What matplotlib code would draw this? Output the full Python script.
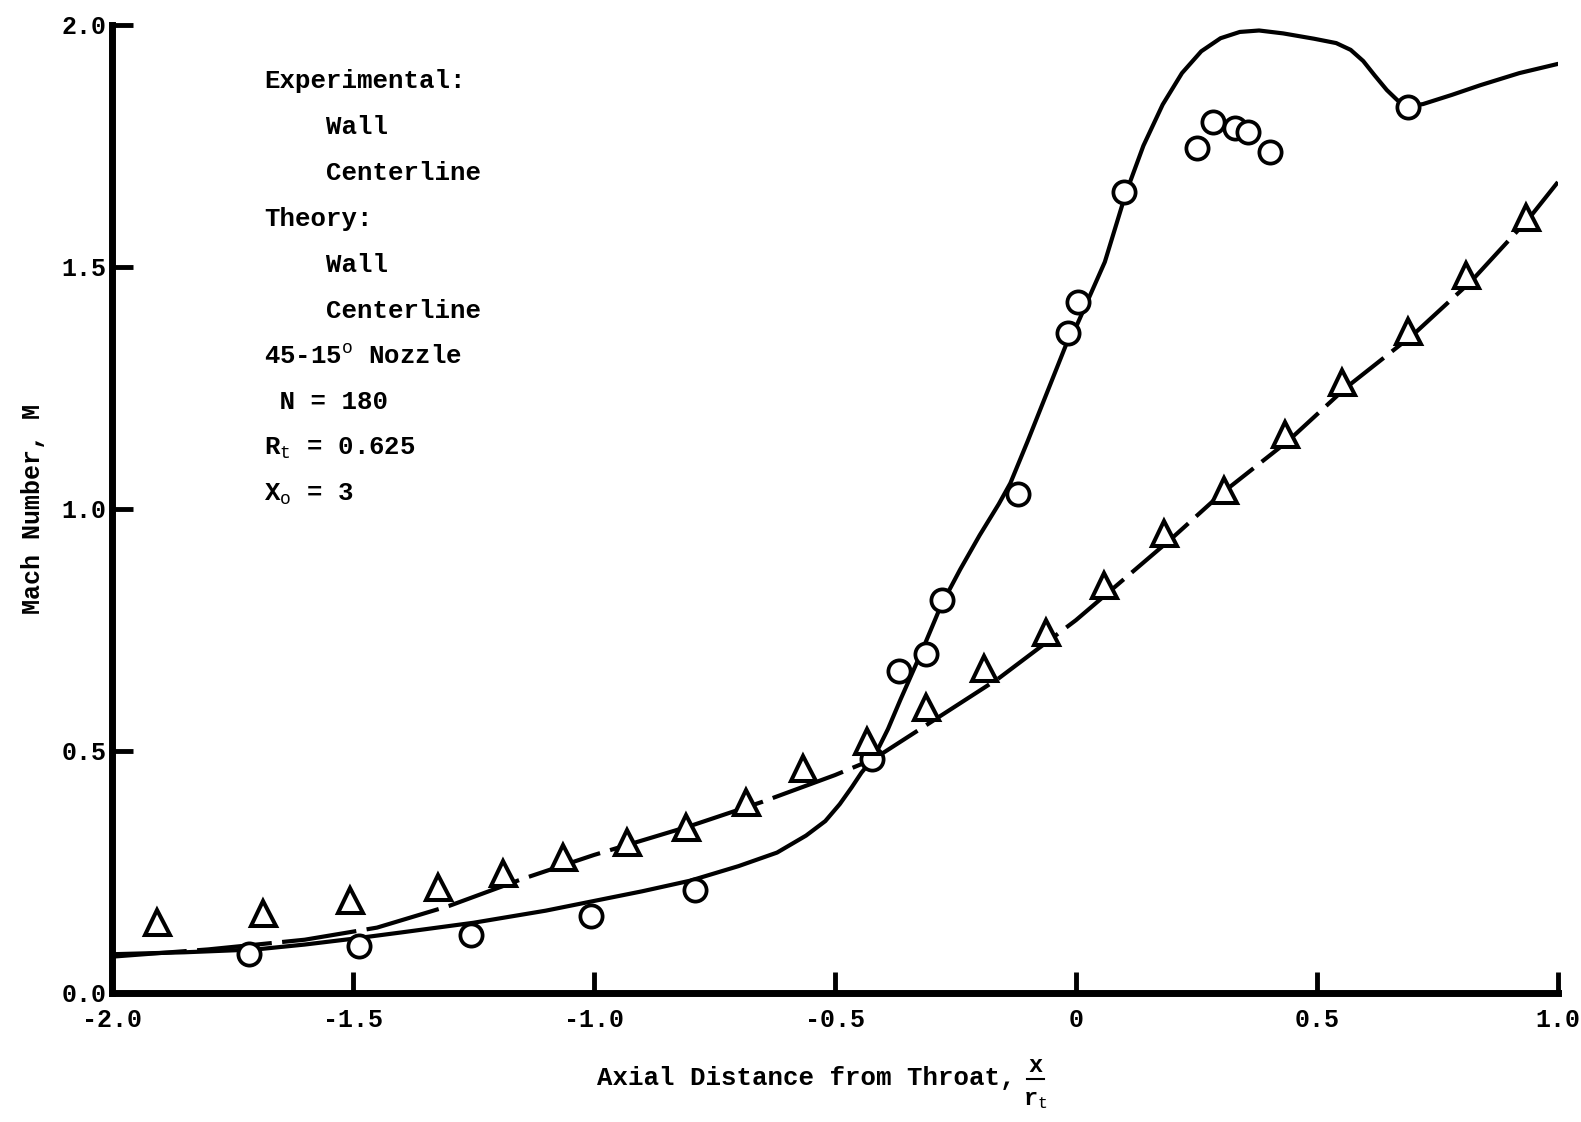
import numpy as np
import matplotlib.pyplot as plt

plt.rcParams['font.family'] = ['Liberation Mono', 'DejaVu Sans']
plt.rcParams['mathtext.fontset'] = 'custom'
plt.rcParams['mathtext.rm'] = 'Liberation Mono'
plt.rcParams['mathtext.it'] = 'Liberation Mono'
plt.rcParams['mathtext.bf'] = 'Liberation Mono:bold'
plt.rcParams['axes.unicode_minus'] = False

#Experimental wall points (circles)
wall_x = [-1.715, -1.487, -1.255, -1.006, -0.791, -0.423, -0.368, -0.312, -0.278,
          -0.121, -0.017, 0.004, 0.100, 0.251, 0.285, 0.331, 0.356, 0.402, 0.690]
wall_y = [0.081, 0.098, 0.119, 0.160, 0.212, 0.483, 0.664, 0.701, 0.812,
          1.030, 1.363, 1.428, 1.655, 1.746, 1.800, 1.786, 1.779, 1.736, 1.831]

#Experimental centerline points (triangles)
cl_x = [-1.906, -1.686, -1.506, -1.324, -1.188, -1.064, -0.931, -0.810, -0.684, -0.567,
        -0.433, -0.312, -0.190, -0.063, 0.058, 0.182, 0.307, 0.433, 0.552, 0.688, 0.810, 0.933]
cl_y = [0.146, 0.166, 0.191, 0.218, 0.248, 0.281, 0.312, 0.343, 0.395, 0.464,
        0.520, 0.591, 0.672, 0.745, 0.843, 0.951, 1.039, 1.155, 1.261, 1.367, 1.482, 1.602]

#Theory, wall
th_wall_x = [-2.0, -1.85, -1.7, -1.6, -1.5, -1.4, -1.25, -1.1, -1.0, -0.9, -0.8, -0.7,
             -0.62, -0.56, -0.52, -0.49, -0.465, -0.445, -0.42, -0.39, -0.364, -0.32,
             -0.28, -0.24, -0.2, -0.16, -0.136, -0.1, -0.07, -0.04, -0.02, 0.0, 0.02,
             0.06, 0.103, 0.14, 0.18, 0.22, 0.26, 0.3, 0.34, 0.38, 0.43, 0.494, 0.54,
             0.57, 0.596, 0.62, 0.645, 0.667, 0.69, 0.72, 0.78, 0.839, 0.92, 1.0]
th_wall_y = [0.08, 0.084, 0.09, 0.10, 0.112, 0.125, 0.145, 0.17, 0.19, 0.21, 0.232, 0.262,
             0.29, 0.325, 0.355, 0.39, 0.425, 0.455, 0.485, 0.545, 0.606, 0.705,
             0.80, 0.875, 0.945, 1.01, 1.053, 1.14, 1.215, 1.29, 1.34, 1.375, 1.42,
             1.51, 1.65, 1.75, 1.835, 1.9, 1.945, 1.972, 1.985, 1.988, 1.982, 1.971, 1.962,
             1.948, 1.925, 1.895, 1.865, 1.844, 1.832, 1.836, 1.855, 1.875, 1.9, 1.919]

#Theory, centerline
th_cl_x = [-2.0, -1.8, -1.6, -1.45, -1.3, -1.15, -1.0, -0.8, -0.65, -0.5, -0.42, -0.3,
           -0.16, 0.0, 0.1, 0.2, 0.3, 0.44, 0.56, 0.7, 0.82, 0.94, 1.0]
th_cl_y = [0.075, 0.09, 0.11, 0.135, 0.18, 0.235, 0.285, 0.345, 0.395, 0.45, 0.483, 0.56,
           0.65, 0.77, 0.855, 0.94, 1.03, 1.14, 1.25, 1.36, 1.47, 1.60, 1.675]

x_ticks = [-2.0, -1.5, -1.0, -0.5, 0.0, 0.5, 1.0]
x_tick_labels = ['-2.0', '-1.5', '-1.0', '-0.5', '0', '0.5', '1.0']
y_ticks = [0.0, 0.5, 1.0, 1.5, 2.0]
y_tick_labels = ['0.0', '0.5', '1.0', '1.5', '2.0']

legend_lines = ['Experimental:', '    Wall', '    Centerline', 'Theory:', '    Wall',
                '    Centerline', r'45-15$^{\mathrm{o}}$ Nozzle', ' N = 180',
                r'R$_{\mathrm{t}}$ = 0.625', r'X$_{\mathrm{o}}$ = 3']

fig = plt.figure(figsize=(15.81, 11.22), dpi=100)
ax = fig.add_axes([0.0708, 0.115, 0.9146, 0.863])

#Theory curves
ax.plot(th_wall_x, th_wall_y, color='black', lw=3, solid_capstyle='round',
        solid_joinstyle='round')
ax.plot(th_cl_x, th_cl_y, color='black', lw=3, linestyle=(0, (18, 2.5)))

#Experimental points
ax.plot(wall_x, wall_y, 'o', ms=16, mfc='white', mec='black', mew=2.7, clip_on=False)
ax.plot(cl_x, cl_y, '^', ms=18, mfc='white', mec='black', mew=2.9, clip_on=False)

ax.set_xlim(-2.0, 1.0)
ax.set_ylim(0.0, 2.0)

for side in ['top', 'right']:
    ax.spines[side].set_visible(False)
for side in ['left', 'bottom']:
    ax.spines[side].set_linewidth(5)

ax.set_xticks(x_ticks)
ax.set_xticklabels(x_tick_labels)
ax.set_yticks(y_ticks)
ax.set_yticklabels(y_tick_labels)
ax.tick_params(direction='in', length=15, width=3.5, labelsize=18, pad=11)
ax.tick_params(axis='y', pad=4)
for lbl in ax.get_xticklabels() + ax.get_yticklabels():
    lbl.set_fontweight('bold')

#Text block in place of legend
for i, line in enumerate(legend_lines):
    ax.text(-1.684, 1.883 - i * 0.0947, line, fontsize=18.5, fontweight='bold',
            ha='left', va='center')

ax.set_ylabel('Mach Number, M', fontsize=18, fontweight='bold', labelpad=12)
fig.text(0.642, 0.039, 'Axial Distance from Throat,', fontsize=18.5, fontweight='bold',
         ha='right', va='center')
fig.text(0.655, 0.050, 'x', fontsize=17, fontweight='bold', ha='center', va='center')
fig.text(0.655, 0.020, r'r$_{\mathrm{t}}$', fontsize=17, fontweight='bold', ha='center', va='center')
fig.add_artist(plt.Line2D([0.6495, 0.6605], [0.038, 0.038], color='black', lw=1.5))

fig.savefig('out.png', dpi=100, facecolor='white')
